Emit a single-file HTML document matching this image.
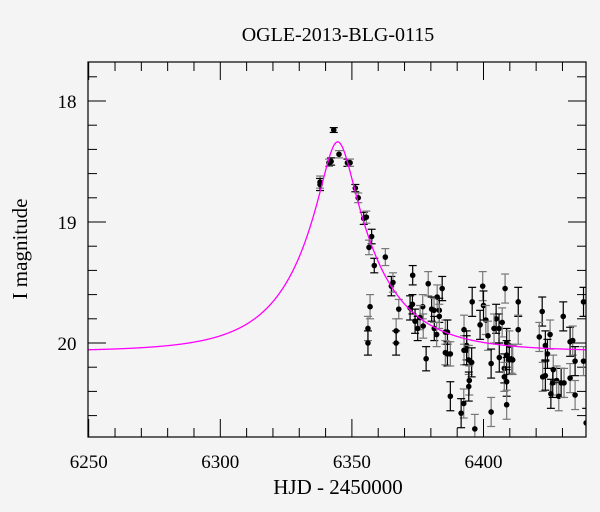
<!DOCTYPE html>
<html><head><meta charset="utf-8"><style>
html,body{margin:0;padding:0;background:#f4f4f4;}
svg{display:block;font-family:"Liberation Serif",serif;}
</style></head><body>
<svg id="chart" width="600" height="512" viewBox="0 0 600 512">
<rect x="0" y="0" width="600" height="512" fill="#f4f4f4"/>
<text x="338" y="41" font-size="20" text-anchor="middle" fill="#000">OGLE-2013-BLG-0115</text>
<text x="338" y="494" font-size="21" text-anchor="middle" fill="#000">HJD - 2450000</text>
<text x="0" y="0" font-size="21" text-anchor="middle" fill="#000" transform="translate(27,249) rotate(-90)">I magnitude</text>
<defs><clipPath id="plotclip"><rect x="88" y="62" width="498" height="375"/></clipPath></defs>
<g id="ticks"></g>
<g id="marks" clip-path="url(#plotclip)"></g>
<rect x="88" y="62" width="498" height="375" fill="none" stroke="#000" stroke-width="1.2"/>
</svg>
<script>
const xTickLabels = [6250, 6300, 6350, 6400];
const yTickLabels = [18, 19, 20];
const modelT0 = [6344.6];
const modelU0 = [0.206];
const modelTE = [29.4];
const modelBase = [20.07];
const obsT = [6343.1,6337.9,6337.9,6341.3,6342.1,6345.1,6348.3,6349.3,6351.3,6352.4,6354.5,6355.5,6357.5,6356.5,6358.5,6362.7,6365.0,6365.6,6373.1,6367.8,6373.0,6366.8,6366.8,6379.0,6384.3,6382.4,6372.1,6376.9,6374.0,6375.9,6375.0,6377.1,6380.3,6381.2,6383.2,6383.2,6381.3,6382.2,6378.2,6385.5,6386.3,6385.5,6386.3,6387.4,6387.4,6392.6,6393.6,6392.6,6393.6,6394.4,6395.5,6394.6,6394.4,6392.5,6391.5,6396.7,6395.7,6399.7,6400.0,6400.9,6398.7,6401.7,6402.9,6402.9,6404.8,6404.0,6405.9,6407.1,6406.0,6408.2,6413.2,6413.2,6408.8,6409.8,6408.8,6410.7,6409.8,6411.1,6407.9,6407.9,6408.8,6408.8,6422.3,6421.2,6423.5,6425.3,6424.3,6422.5,6423.5,6426.5,6426.3,6427.8,6425.6,6428.6,6429.5,6430.6,6430.3,6432.9,6432.9,6433.9,6434.8,6434.8,6438.0,6438.0,6439.0,6356.1,6356.1,6356.9];
const obsMag = [18.24,18.67,18.69,18.51,18.50,18.44,18.51,18.51,18.72,18.80,18.97,18.96,19.12,19.21,19.36,19.29,19.53,19.50,19.44,19.72,19.68,19.90,20.00,19.51,19.55,19.62,19.71,19.70,19.82,19.79,19.88,19.86,19.72,19.73,19.73,19.78,19.88,19.93,20.13,19.91,19.91,20.08,20.09,20.09,20.44,19.89,20.02,20.06,20.06,20.14,20.16,20.31,20.36,20.50,20.58,20.71,19.66,19.53,19.69,19.81,19.85,19.94,20.17,20.57,19.80,19.88,19.88,19.83,20.12,19.55,19.66,19.89,20.00,20.02,20.10,20.13,20.14,20.14,20.21,20.28,20.32,20.51,19.74,19.95,20.02,19.93,20.09,20.28,20.27,20.22,20.33,20.31,20.42,20.44,20.33,20.33,19.78,20.29,19.99,19.98,20.15,20.43,19.66,20.15,20.66,19.88,20.00,19.70];
const obsErr = [0.02,0.05,0.05,0.03,0.03,0.03,0.03,0.03,0.03,0.04,0.05,0.05,0.06,0.06,0.06,0.07,0.08,0.08,0.08,0.08,0.08,0.1,0.1,0.1,0.1,0.1,0.1,0.1,0.1,0.1,0.1,0.1,0.1,0.1,0.1,0.1,0.1,0.1,0.1,0.1,0.1,0.1,0.1,0.1,0.12,0.12,0.12,0.12,0.12,0.12,0.12,0.12,0.12,0.12,0.12,0.12,0.12,0.12,0.12,0.12,0.12,0.12,0.12,0.12,0.12,0.12,0.12,0.12,0.12,0.12,0.12,0.12,0.12,0.12,0.12,0.12,0.12,0.12,0.12,0.12,0.12,0.12,0.12,0.12,0.12,0.12,0.12,0.12,0.12,0.12,0.12,0.12,0.12,0.12,0.12,0.12,0.12,0.12,0.12,0.12,0.12,0.12,0.12,0.12,0.12,0.1,0.1,0.1];

const NS = 'http://www.w3.org/2000/svg';
const X0 = 88, X1 = 586, Y0 = 62, Y1 = 437;
function xS(t){ return 88.7 + (t - 6250) * 2.632; }
function yS(m){ return 101 + (m - 18) * 121; }
function mk(tag, attrs, parent){ const e = document.createElementNS(NS, tag); for (const k in attrs) e.setAttribute(k, attrs[k]); parent.appendChild(e); return e; }
const ticks = document.getElementById('ticks');
const marks = document.getElementById('marks');
for (let t = 6250; t <= 6439; t += 10) {
  const x = xS(t); const major = (t % 50 === 0); const L = major ? 18 : 9;
  const a = mk('line', {x1:x, y1:Y1, x2:x, y2:Y1-L, stroke:'#000', 'stroke-width':1}, ticks);
  
  
  const b = mk('line', {x1:x, y1:Y0, x2:x, y2:Y0+L, stroke:'#000', 'stroke-width':1}, ticks);
  
  
}
xTickLabels.forEach(v => {
  const tx = mk('text', {x:xS(v), y:468, 'font-size':19, 'text-anchor':'middle', fill:'#000'}, ticks);
  tx.textContent = v;
  
  
});
for (let i = 0; ; i++) {
  const m = 17.8 + i * 0.2; if (m > 20.8) break;
  const y = yS(m); if (y < Y0 || y > Y1) continue;
  const major = Math.abs(m - Math.round(m)) < 0.01; const L = major ? 18 : 9;
  const a = mk('line', {x1:X0, y1:y, x2:X0+L, y2:y, stroke:'#000', 'stroke-width':1}, ticks);
  
  
  const b = mk('line', {x1:X1, y1:y, x2:X1-L, y2:y, stroke:'#000', 'stroke-width':1}, ticks);
  
  
}
yTickLabels.forEach(v => {
  const tx = mk('text', {x:67, y:yS(v)+7, 'font-size':19, 'text-anchor':'middle', fill:'#000'}, ticks);
  tx.textContent = v;
  
  
});
for (let i = 0; i < obsT.length; i++) {
  const x = xS(obsT[i]), y = yS(obsMag[i]);
  const ya = yS(obsMag[i] - obsErr[i]), yb = yS(obsMag[i] + obsErr[i]);
  const col = (i % 2 === 0) ? '#000' : '#777';
  const g = mk('g', {}, marks);
  
  
  mk('line', {x1:x, y1:ya, x2:x, y2:yb, stroke:col, 'stroke-width':1.2}, g);
  mk('line', {x1:x-4, y1:ya, x2:x+4, y2:ya, stroke:col, 'stroke-width':1.2}, g);
  mk('line', {x1:x-4, y1:yb, x2:x+4, y2:yb, stroke:col, 'stroke-width':1.2}, g);
  mk('circle', {cx:x, cy:y, r:2.8, fill:'#000'}, g);
}
let d = '';
for (let t = 6248; t <= 6441; t += 0.25) {
  const tau = (t - modelT0[0]) / modelTE[0];
  const u = Math.sqrt(modelU0[0]*modelU0[0] + tau*tau);
  const A = (u*u + 2) / (u * Math.sqrt(u*u + 4));
  const m = modelBase[0] - 2.5 * Math.log10(A);
  d += (d ? 'L' : 'M') + xS(t).toFixed(2) + ',' + yS(m).toFixed(2);
}
const c = mk('path', {d:d, fill:'none', stroke:'#ff00ff', 'stroke-width':1.3}, marks);


</script>
</body></html>
